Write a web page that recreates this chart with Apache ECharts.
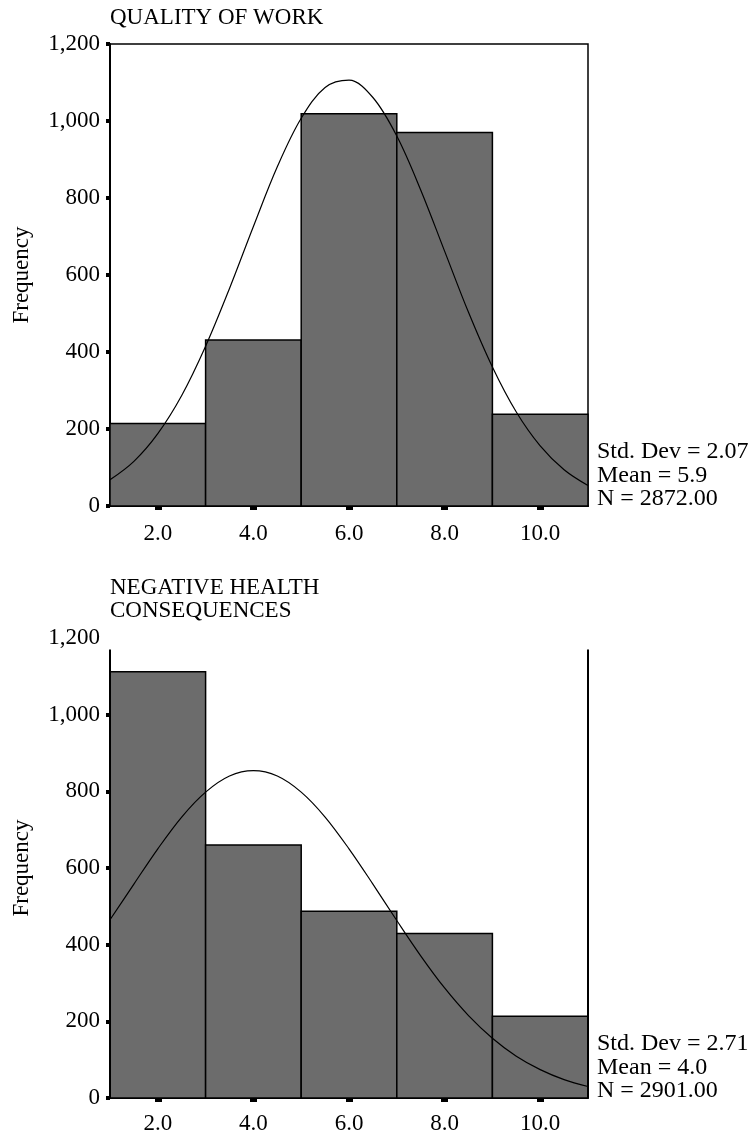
<!DOCTYPE html>
<html>
<head>
<meta charset="utf-8">
<script src="https://cdn.jsdelivr.net/npm/echarts@6/dist/echarts.min.js"></script>
<style>
html,body{margin:0;padding:0;background:#fff;}
#chart{width:752px;height:1136px;}
</style>
</head>
<body>
<div id="chart"></div>
<script>
// ---- data ----
const binEdges = [1, 3, 5, 7, 9, 11];
const xTickValues = [2, 4, 6, 8, 10];
const yTickValues = [0, 200, 400, 600, 800, 1000, 1200];

const topTitle = 'QUALITY OF WORK';
const topCounts = [214, 431, 1019, 970, 238];
const topStats = ['Std. Dev = 2.07', 'Mean = 5.9', 'N = 2872.00'];

const bottomTitle = 'NEGATIVE HEALTH\nCONSEQUENCES';
const bottomCounts = [1112, 660, 487, 429, 213];
const bottomStats = ['Std. Dev = 2.71', 'Mean = 4.0', 'N = 2901.00'];

// normal curve overlays
const curveX = [1, 1.5, 2, 2.5, 3, 3.5, 4, 4.5, 5, 5.5, 6, 6.5, 7, 7.5, 8, 8.5, 9, 9.5, 10, 10.5, 11];
const topCurve = [68, 116, 188, 287, 415, 565, 726, 881, 1007, 1087, 1106, 1061, 961, 821, 662, 503, 361, 244, 156, 94, 53];
const bottomCurve = [465, 558, 650, 733, 798, 840, 854, 840, 798, 733, 650, 558, 463, 371, 287, 215, 156, 109, 74, 48, 30];

const bottomFrameTop = 1170;

// ---- chart ----
const FONT = 'Liberation Serif';
const chart = echarts.init(document.getElementById('chart'), null, {renderer: 'canvas'});

function binData(counts) {
  return counts.map((c, i) => [binEdges[i], binEdges[i + 1], c]);
}
function curveData(vals) {
  return curveX.map((x, i) => [x, vals[i]]);
}
function renderBin(params, api) {
  const x0 = api.value(0), x1 = api.value(1), y = api.value(2);
  const p0 = api.coord([x0, y]);
  const p1 = api.coord([x1, 0]);
  return {
    type: 'rect',
    shape: {x: p0[0], y: p0[1], width: p1[0] - p0[0], height: p1[1] - p0[1]},
    style: {fill: '#6c6c6c', stroke: '#000', lineWidth: 1.5}
  };
}
function xAxis(gridIndex) {
  return {
    type: 'value', gridIndex, min: binEdges[0], max: binEdges[binEdges.length - 1],
    splitLine: {show: false},
    axisLine: {show: true, onZero: false, lineStyle: {color: '#000', width: 2}},
    axisTick: {show: true, customValues: xTickValues, length: 4, lineStyle: {color: '#000', width: 7}},
    axisLabel: {customValues: xTickValues, formatter: v => v.toFixed(1), color: '#000',
      fontFamily: FONT, fontSize: 23, margin: gridIndex === 0 ? 16 : 14}
  };
}
function yAxis(gridIndex, showLine, tickVals) {
  return {
    type: 'value', gridIndex, min: 0, max: 1200, interval: 200,
    name: 'Frequency', nameLocation: 'middle', nameGap: 77,
    nameTextStyle: {color: '#000', fontFamily: FONT, fontSize: 23},
    splitLine: {show: false},
    axisLine: {show: showLine, lineStyle: {color: '#000', width: 2}},
    axisTick: {show: true, customValues: tickVals, length: 4, lineStyle: {color: '#000', width: 4}},
    axisLabel: {customValues: yTickValues, formatter: v => v.toLocaleString('en-US'), color: '#000',
      fontFamily: FONT, fontSize: 23, margin: 10}
  };
}

const option = {
  backgroundColor: '#fff',
  animation: false,
  title: [
    {text: topTitle, left: 110, top: 6, padding: 0,
      textStyle: {fontFamily: FONT, fontSize: 23, fontWeight: 'normal', color: '#000', lineHeight: 23.5}},
    {text: bottomTitle, left: 110, top: 576, padding: 0,
      textStyle: {fontFamily: FONT, fontSize: 23, fontWeight: 'normal', color: '#000', lineHeight: 23.5}}
  ],
  grid: [
    {left: 110, right: 164, top: 44, height: 462, show: true, borderColor: '#000', borderWidth: 1.5, backgroundColor: 'transparent'},
    {left: 110, right: 164, top: 638, height: 460, show: false}
  ],
  xAxis: [xAxis(0), xAxis(1)],
  yAxis: [yAxis(0, true, yTickValues), yAxis(1, false, yTickValues.slice(0, -1))],
  graphic: [
    {type: 'text', left: 597, top: 440,
      style: {text: topStats.join('\n'), font: '24px "Liberation Serif"', fill: '#000', lineHeight: 23.3}},
    {type: 'text', left: 597, top: 1032,
      style: {text: bottomStats.join('\n'), font: '24px "Liberation Serif"', fill: '#000', lineHeight: 23.3}}
  ],
  series: [
    {type: 'custom', xAxisIndex: 0, yAxisIndex: 0, data: binData(topCounts), renderItem: renderBin,
      encode: {x: [0, 1], y: 2}, silent: true, z: 2},
    {type: 'line', xAxisIndex: 0, yAxisIndex: 0, data: curveData(topCurve), smooth: 0.35, showSymbol: false,
      lineStyle: {color: '#000', width: 1.2}, silent: true, z: 3},
    {type: 'custom', xAxisIndex: 1, yAxisIndex: 1, data: binData(bottomCounts), renderItem: renderBin,
      encode: {x: [0, 1], y: 2}, silent: true, z: 2,
      markLine: {
        silent: true, symbol: 'none', label: {show: false},
        lineStyle: {color: '#000', width: 2, type: 'solid'},
        data: [
          [{coord: [binEdges[0], 0]}, {coord: [binEdges[0], bottomFrameTop]}],
          [{coord: [binEdges[binEdges.length - 1], 0]}, {coord: [binEdges[binEdges.length - 1], bottomFrameTop]}]
        ]
      }},
    {type: 'line', xAxisIndex: 1, yAxisIndex: 1, data: curveData(bottomCurve), smooth: 0.35, showSymbol: false,
      lineStyle: {color: '#000', width: 1.2}, silent: true, z: 3}
  ]
};
chart.setOption(option);
</script>
</body>
</html>
